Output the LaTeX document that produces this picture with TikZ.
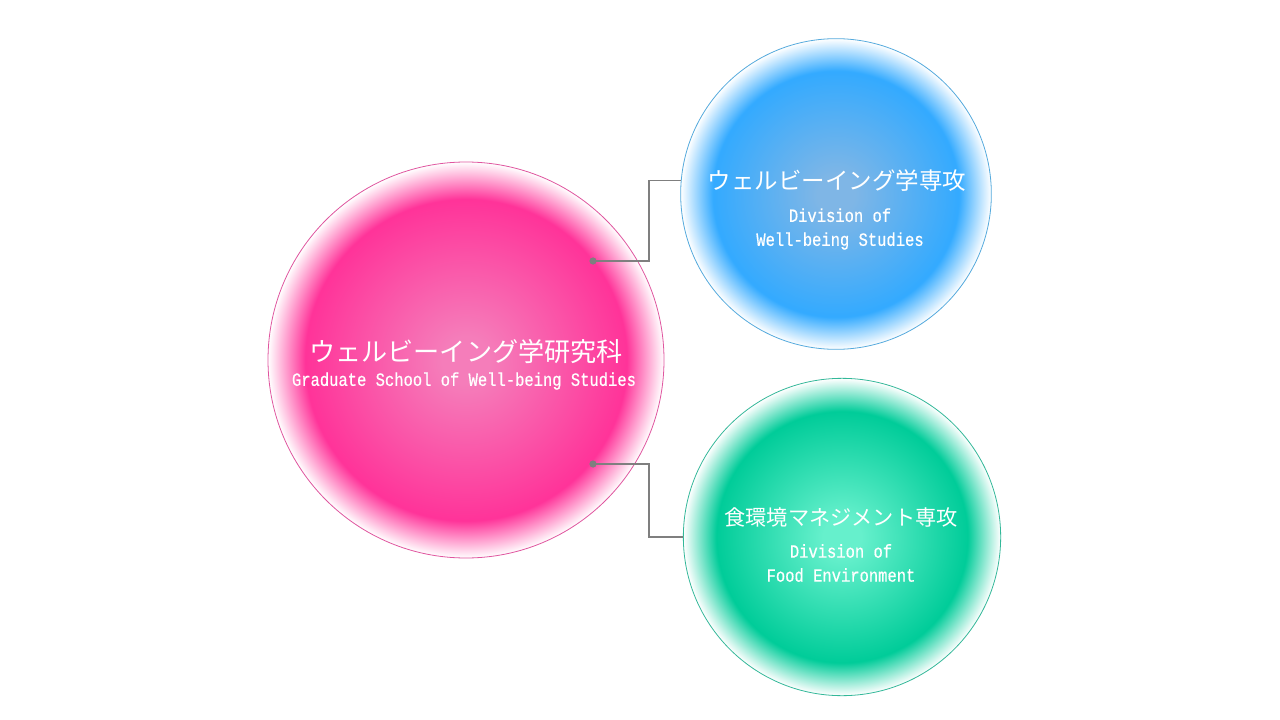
\documentclass[tikz,border=0pt]{standalone}
\usepackage{fontspec}
\newfontfamily\jpfont{Noto Sans CJK JP}
\newfontfamily\enfont[FakeStretch=0.83,FakeBold=0.6]{Liberation Mono}
\usetikzlibrary{calc,positioning}
\definecolor{pinkdeep}{HTML}{FF3399}
\definecolor{pinkcore}{HTML}{F57DBA}
\definecolor{pinkline}{HTML}{E0559F}
\definecolor{bluedeep}{HTML}{33AAFF}
\definecolor{bluecore}{HTML}{7FB6E6}
\definecolor{blueline}{HTML}{55AADD}
\definecolor{greendeep}{HTML}{00CC99}
\definecolor{greencore}{HTML}{66F0CC}
\definecolor{greenline}{HTML}{33B899}
\definecolor{linkgrey}{HTML}{7F7F7F}
\pgfdeclareradialshading{pinkball}{\pgfpoint{0bp}{0bp}}{color(0bp)=(pinkcore); color(3bp)=(pinkcore); color(20.3bp)=(pinkdeep); color(25bp)=(white); color(50bp)=(white)}
\pgfdeclareradialshading{blueball}{\pgfpoint{0bp}{0bp}}{color(0bp)=(bluecore); color(3bp)=(bluecore); color(19.8bp)=(bluedeep); color(25bp)=(white); color(50bp)=(white)}
\pgfdeclareradialshading{greenball}{\pgfpoint{0bp}{0bp}}{color(0bp)=(greencore); color(3bp)=(greencore); color(19.8bp)=(greendeep); color(25bp)=(white); color(50bp)=(white)}
\tikzset{
  ball/.style={circle,inner sep=0pt,line width=0.6pt},
  jplabel/.style={text=white,inner sep=0pt,font=\jpfont},
  enlabel/.style={text=white,inner sep=0pt,align=center,font=\enfont\fontsize{14pt}{18pt}\selectfont},
  link/.style={draw=linkgrey,line width=1pt},
  knob/.style={fill=linkgrey}
}
\begin{document}
\begin{tikzpicture}[x=0.75pt,y=-0.75pt]
    \useasboundingbox[fill=white] (0,0) rectangle (1280,720);
    % the three circles
    \node[ball,minimum size=297pt,shading=pinkball,draw=pinkline] (school) at (466,360) {};
    \node[ball,minimum size=233pt,shading=blueball,draw=blueline] (wellbeing) at (836,194) {};
    \node[ball,minimum size=238pt,shading=greenball,draw=greenline] (food) at (842,537) {};
    % texts
    \node[jplabel,font=\jpfont\fontsize{19.6pt}{22pt}\selectfont] (schoolJP) at (466,352) {ウェルビーイング学研究科};
    \node[enlabel] (schoolEN) at (464,381) {Graduate School of Well-being Studies};
    \node[jplabel,font=\jpfont\fontsize{17.6pt}{20pt}\selectfont] (wellbeingJP) at (837,181) {ウェルビーイング学専攻};
    \node[enlabel] (wellbeingEN) at (840,229) {Division of\\Well-being Studies};
    \node[jplabel,font=\jpfont\fontsize{15.9pt}{18pt}\selectfont] (foodJP) at (841,517) {食環境マネジメント専攻};
    \node[enlabel] (foodEN) at (841,563) {Division of\\Food Environment};
    % connectors
    \coordinate (knobA) at (593,261);
    \coordinate (knobB) at (593,464);
    \draw[link] (knobA) -- ++(56,0) |- (wellbeing.175);
    \draw[link] (knobB) -- ++(56,0) |- (food.west);
    \foreach \k in {knobA,knobB}
    {
      \fill[knob] (\k) circle (2.7pt);
    }
\end{tikzpicture}
\end{document}
